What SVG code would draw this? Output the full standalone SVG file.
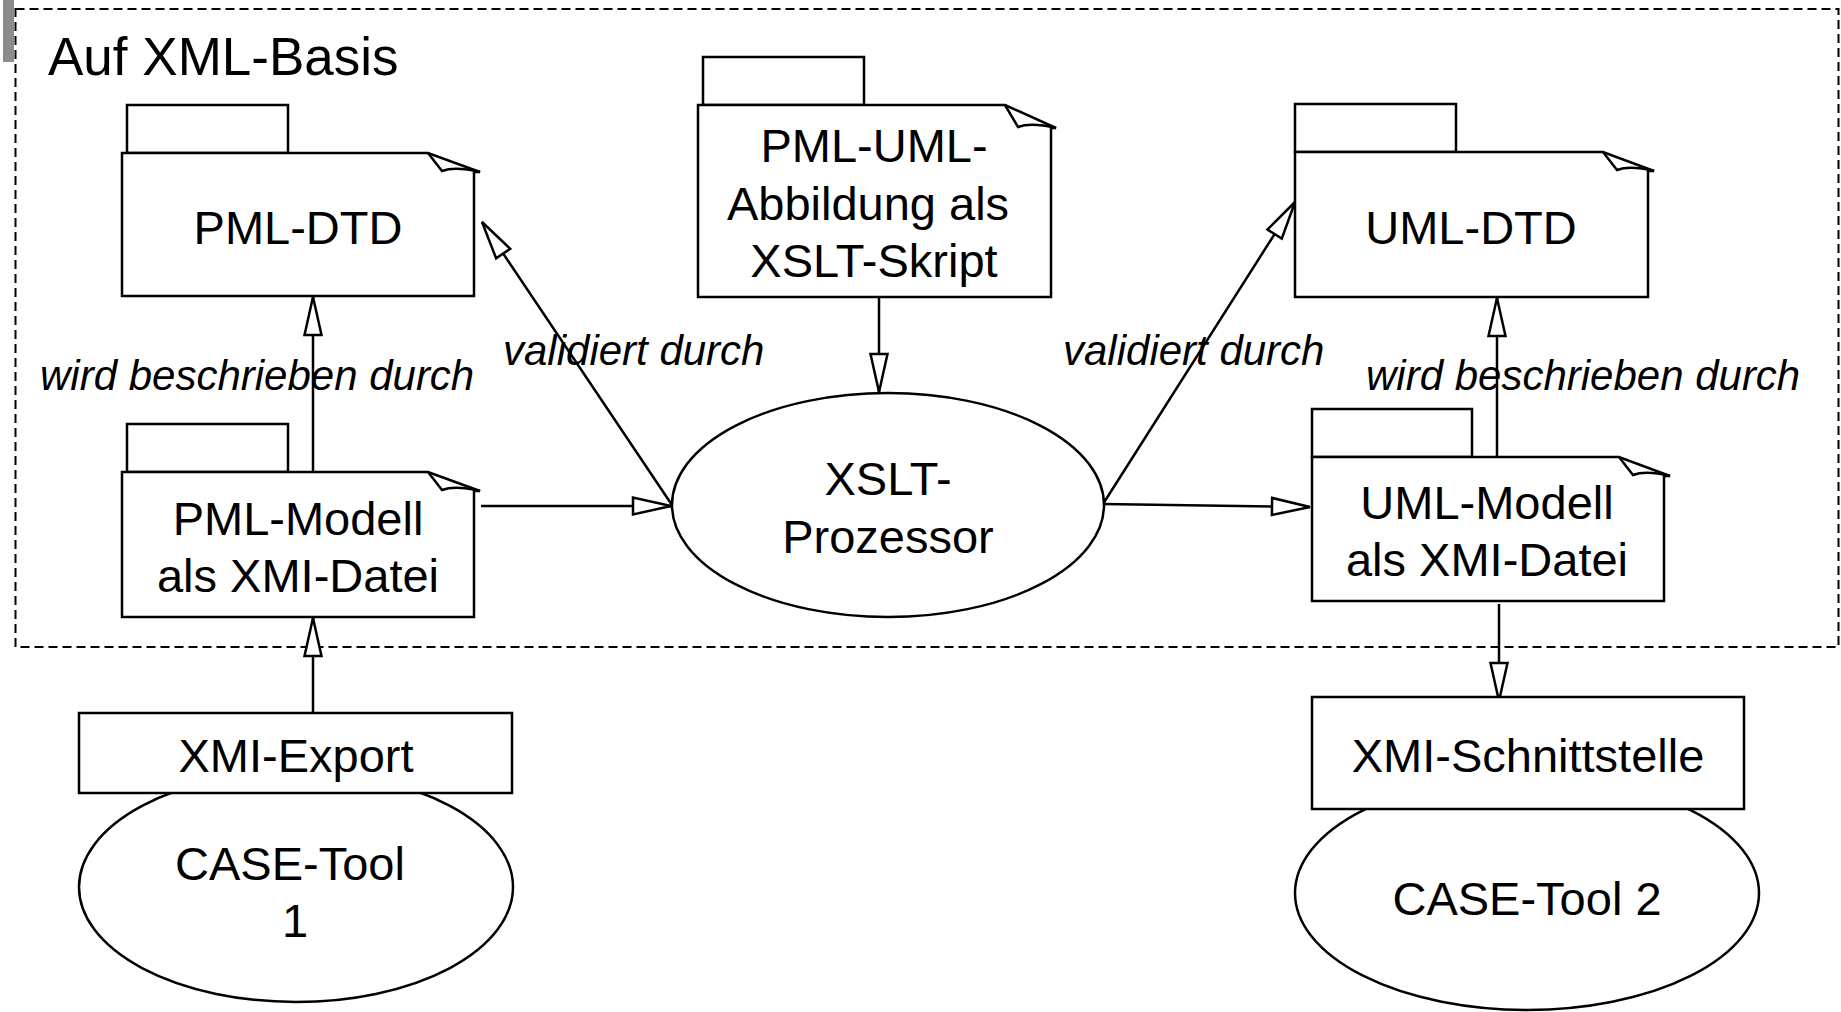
<svg xmlns="http://www.w3.org/2000/svg" width="1841" height="1012" viewBox="0 0 1841 1012">
<style>
.s{fill:#fff;stroke:#000;stroke-width:2.5}
.n{fill:none;stroke:#000;stroke-width:2.5}
.t{font-family:"Liberation Sans",Arial,sans-serif;font-size:47px;fill:#000;text-anchor:middle}
.l{font-family:"Liberation Sans",Arial,sans-serif;font-size:42px;font-style:italic;fill:#000}
.c{fill:none;stroke:#000;stroke-width:2.5}
</style>
<defs>
<marker id="ah" markerUnits="userSpaceOnUse" markerWidth="44" markerHeight="24" viewBox="-42 -12 44 24" refX="0" refY="0" orient="auto">
<path d="M0,0 L-38,-8.5 L-38,8.5 Z" fill="#fff" stroke="#000" stroke-width="2.5" stroke-linejoin="miter"/>
</marker>
</defs>
<rect x="0" y="0" width="1841" height="1012" fill="#fff"/>
<rect x="3" y="0" width="11" height="62" fill="#8c8c8c"/>
<g id="xml-basis">
<rect x="15.5" y="9" width="1823" height="638" fill="none" stroke="#000" stroke-width="2" stroke-dasharray="9,5"/>
<text x="48" y="75" font-family="Liberation Sans, Arial, sans-serif" font-size="53">Auf XML-Basis</text>
</g>
<g id="connectors">
<line class="c" x1="313" y1="472" x2="313" y2="297" marker-end="url(#ah)"/>
<line class="c" x1="313" y1="713" x2="313" y2="618" marker-end="url(#ah)"/>
<line class="c" x1="481" y1="506" x2="671" y2="506" marker-end="url(#ah)"/>
<line class="c" x1="672" y1="505" x2="482" y2="222" marker-end="url(#ah)"/>
<line class="c" x1="879" y1="297" x2="879" y2="392" marker-end="url(#ah)"/>
<line class="c" x1="1103" y1="504" x2="1295" y2="202" marker-end="url(#ah)"/>
<line class="c" x1="1103" y1="504" x2="1310" y2="507" marker-end="url(#ah)"/>
<line class="c" x1="1497" y1="457" x2="1497" y2="298" marker-end="url(#ah)"/>
<line class="c" x1="1499" y1="604" x2="1499" y2="701" marker-end="url(#ah)"/>
<text class="l" x="40" y="390">wird beschrieben durch</text>
<text class="l" x="503" y="365">validiert durch</text>
<text class="l" x="1063" y="365">validiert durch</text>
<text class="l" x="1366" y="390">wird beschrieben durch</text>
</g>
<g id="pml-dtd">
<rect class="s" x="127" y="105" width="161" height="48"/>
<path class="s" d="M122,153 L428,153 L480,172 L474,172 L474,296 L122,296 Z"/>
<path class="n" d="M428,153 L442,171 Q455,166 480,172"/>
<text class="t" x="298" y="244">PML-DTD</text>
</g>
<g id="pml-modell">
<rect class="s" x="127" y="424" width="161" height="48"/>
<path class="s" d="M122,472 L428,472 L480,491 L474,491 L474,617 L122,617 Z"/>
<path class="n" d="M428,472 L442,490 Q455,485 480,491"/>
<text class="t" x="298" y="535">PML-Modell</text>
<text class="t" x="298" y="592">als XMI-Datei</text>
</g>
<g id="pml-uml">
<rect class="s" x="703" y="57" width="161" height="48"/>
<path class="s" d="M698,105 L1005,105 L1056,128 L1051,128 L1051,297 L698,297 Z"/>
<path class="n" d="M1005,105 L1018,127 Q1031,122 1056,128"/>
<text class="t" x="874" y="162">PML-UML-</text>
<text class="t" x="868" y="220">Abbildung als</text>
<text class="t" x="874" y="277">XSLT-Skript</text>
</g>
<g id="xslt">
<ellipse class="s" cx="888" cy="505" rx="216" ry="112"/>
<text class="t" x="888" y="495">XSLT-</text>
<text class="t" x="888" y="553">Prozessor</text>
</g>
<g id="uml-dtd">
<rect class="s" x="1295" y="104" width="161" height="48"/>
<path class="s" d="M1295,152 L1603,152 L1654,171 L1648,171 L1648,297 L1295,297 Z"/>
<path class="n" d="M1603,152 L1617,170 Q1630,165 1654,171"/>
<text class="t" x="1471" y="244">UML-DTD</text>
</g>
<g id="uml-modell">
<rect class="s" x="1312" y="409" width="160" height="48"/>
<path class="s" d="M1312,457 L1619,457 L1670,476 L1664,476 L1664,601 L1312,601 Z"/>
<path class="n" d="M1619,457 L1633,475 Q1646,470 1670,476"/>
<text class="t" x="1487" y="519">UML-Modell</text>
<text class="t" x="1487" y="576">als XMI-Datei</text>
</g>
<g id="case-tool-1">
<ellipse class="s" cx="296" cy="887" rx="217" ry="115"/>
<text class="t" x="290" y="880">CASE-Tool</text>
<text class="t" x="295" y="937">1</text>
</g>
<g id="xmi-export">
<rect class="s" x="79" y="713" width="433" height="80"/>
<text class="t" x="296" y="772">XMI-Export</text>
</g>
<g id="case-tool-2">
<ellipse class="s" cx="1527" cy="893" rx="232" ry="117"/>
<text class="t" x="1527" y="915">CASE-Tool 2</text>
</g>
<g id="xmi-schnittstelle">
<rect class="s" x="1312" y="697" width="432" height="112"/>
<text class="t" x="1528" y="772">XMI-Schnittstelle</text>
</g>
</svg>
